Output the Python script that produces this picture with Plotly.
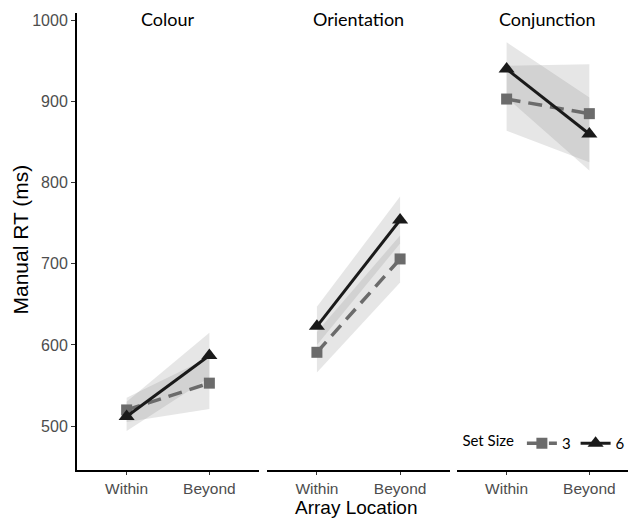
import plotly.graph_objects as go

# ---- data ----
panels = ["Colour", "Orientation", "Conjunction"]
locations = ["Within", "Beyond"]
set_sizes = ["3", "6"]

rt_set3 = {"Colour": [520, 553], "Orientation": [591, 706], "Conjunction": [903, 885]}
rt_set6 = {"Colour": [512, 587], "Orientation": [623, 754], "Conjunction": [940, 860]}

ci_low_set3 = {"Colour": [505, 521], "Orientation": [566, 677], "Conjunction": [864, 825]}
ci_high_set3 = {"Colour": [535, 585], "Orientation": [616, 735], "Conjunction": [944, 946]}
ci_low_set6 = {"Colour": [494, 560], "Orientation": [600, 725], "Conjunction": [905, 815]}
ci_high_set6 = {"Colour": [530, 615], "Orientation": [647, 783], "Conjunction": [973, 905]}

y_ticks = [500, 600, 700, 800, 900, 1000]

# ---- styling ----
C3 = "#6b6b6b"
C6 = "#1a1a1a"
BAND = "rgba(128,128,128,0.2)"
TICKFONT = dict(family="Liberation Sans, Arial", size=16, color="#4d4d4d")
XTICKFONT = dict(family="Liberation Sans, Arial", size=15.5, color="#4d4d4d")
STRIPFONT = dict(family="Lato, Calibri, sans-serif", size=18, color="#000000")
LEGFONT = dict(family="Lato, Calibri, sans-serif", size=15, color="#000000")
TITLEFONT = dict(family="Liberation Sans, Arial", size=21, color="black")
XTITLEFONT = dict(family="Liberation Sans, Arial", size=19, color="black")

fig = go.Figure()

W = 559.0
H = 457.0
dom = [(0.0, 182 / W), (190 / W, 373 / W), (380 / W, 1.0)]
xr = [[-0.6, 1.6], [-0.6, 1.6], [-0.6, 1.564]]

for i, p in enumerate(panels):
    xa = "x" if i == 0 else f"x{i+1}"
    xs = [0, 1]
    for lo, hi in ((ci_low_set3[p], ci_high_set3[p]), (ci_low_set6[p], ci_high_set6[p])):
        fig.add_trace(go.Scatter(
            x=[xs[0], xs[1], xs[1], xs[0], xs[0]],
            y=[lo[0], lo[1], hi[1], hi[0], lo[0]],
            fill="toself", fillcolor=BAND, line=dict(width=0),
            mode="lines", hoverinfo="skip", showlegend=False,
            xaxis=xa, yaxis="y"))
    fig.add_trace(go.Scatter(
        x=xs, y=rt_set3[p], mode="lines+markers", name=set_sizes[0],
        line=dict(color=C3, width=3.5, dash="14px,8px"),
        marker=dict(symbol="square", size=11, color=C3),
        showlegend=(i == 0), legendgroup="3", xaxis=xa, yaxis="y"))
    fig.add_trace(go.Scatter(
        x=xs, y=rt_set6[p], mode="lines+markers", name=set_sizes[1],
        line=dict(color=C6, width=3),
        marker=dict(symbol="triangle-up", size=14, color=C6),
        showlegend=(i == 0), legendgroup="6", xaxis=xa, yaxis="y"))

# the page body adds an 8px offset, so the figure is sized 628x511
layout = dict(
    width=628, height=511,
    margin=dict(l=69, r=0, t=5, b=49),
    paper_bgcolor="white", plot_bgcolor="white",
    yaxis=dict(range=[446, 1009], tickvals=y_ticks, ticktext=[str(v) for v in y_ticks],
               showgrid=False, zeroline=False, showline=True, linecolor="black",
               linewidth=2, ticks="outside", ticklen=4, tickcolor="#333333",
               tickfont=TICKFONT, anchor="x", fixedrange=True),
    legend=dict(orientation="h", x=0.99, xanchor="right", y=0.058, yanchor="middle",
                title=dict(text="Set Size", font=LEGFONT), font=LEGFONT,
                bgcolor="rgba(0,0,0,0)", itemwidth=30, traceorder="normal"),
    showlegend=True,
)
for i in range(3):
    key = "xaxis" if i == 0 else f"xaxis{i+1}"
    layout[key] = dict(domain=list(dom[i]), range=xr[i], tickvals=[0, 1], ticktext=locations,
                       showgrid=False, zeroline=False, showline=True, linecolor="black",
                       linewidth=2, ticks="outside", ticklen=3, tickcolor="#333333",
                       tickfont=XTICKFONT, anchor="y", fixedrange=True)
fig.update_layout(**layout)

# facet titles
for i, p in enumerate(panels):
    fig.add_annotation(x=(dom[i][0] + dom[i][1]) / 2, y=(470 - 19) / H, xref="paper", yref="paper",
                       text=p, showarrow=False, font=STRIPFONT, xanchor="center", yanchor="middle")

# axis titles
fig.add_annotation(x=0.5, y=-(507.5 - 470) / H, xref="paper", yref="paper", text="Array Location",
                   showarrow=False, font=XTITLEFONT, xanchor="center", yanchor="middle",
                   borderpad=0)
fig.add_annotation(x=-57.5 / W, y=(470 - 240) / H, xref="paper", yref="paper", text="Manual RT (ms)",
                   textangle=-90, showarrow=False, font=TITLEFONT,
                   xanchor="center", yanchor="middle")

fig.write_html("out.html")
